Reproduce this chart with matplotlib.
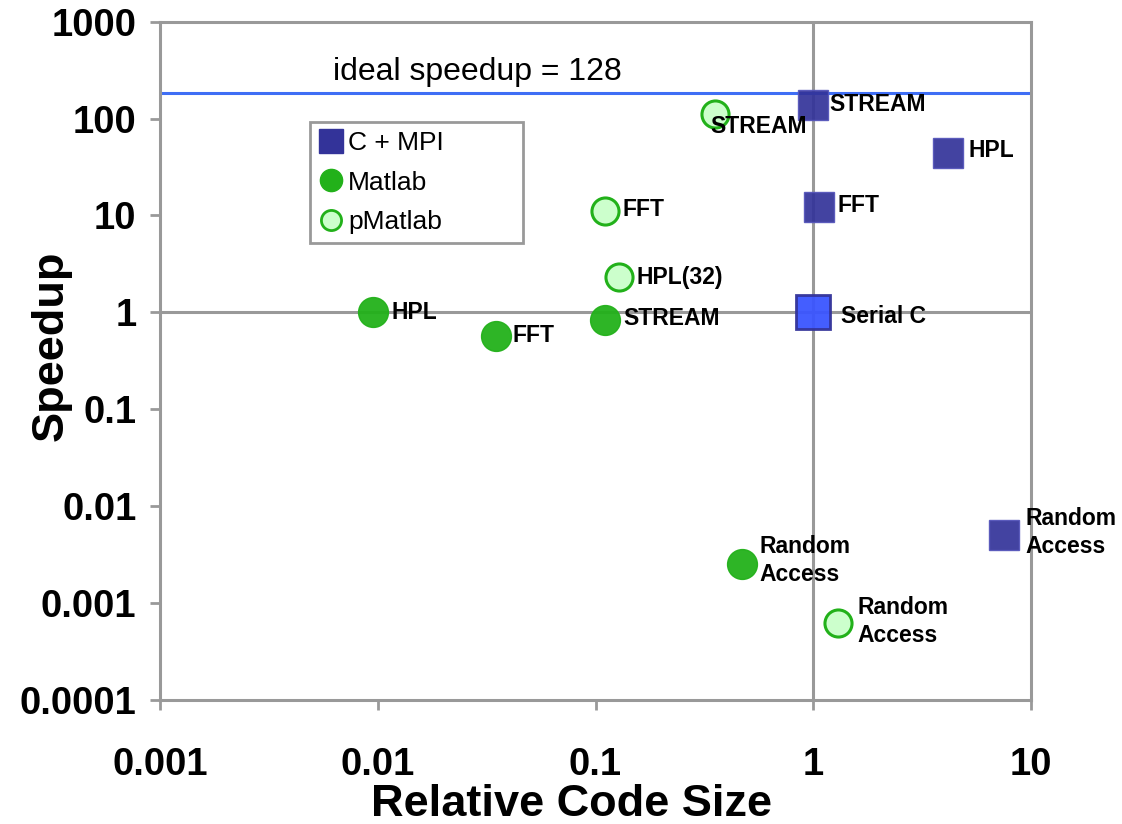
import matplotlib.pyplot as plt
from matplotlib.lines import Line2D

plt.rcParams['font.family'] = ['Liberation Sans', 'DejaVu Sans']

# C + MPI
mpi_names = ["STREAM", "HPL", "FFT", "Random\nAccess"]
mpi_x = [1.0, 4.16, 1.06, 7.5]
mpi_y = [138, 44.2, 12.1, 0.0051]
mpi_off = [(16, 1), (20, 2), (19, 2), (22, 2)]

# Matlab
ml_names = ["HPL", "FFT", "STREAM", "Random\nAccess"]
ml_x = [0.0095, 0.035, 0.110, 0.469]
ml_y = [1.0, 0.573, 0.83, 0.00251]
ml_off = [(19, 0), (16, 0), (19, 2), (18, 4)]

# pMatlab
pm_names = ["STREAM", "FFT", "HPL(32)", "Random\nAccess"]
pm_x = [0.355, 0.1107, 0.128, 1.30]
pm_y = [111.6, 11.2, 2.34, 0.000618]
pm_off = [(-5, -13), (17, 1), (18, -1), (19, 2)]

serial_x = [1.0]
serial_y = [1.0]
ideal = 182

xticks = [0.001, 0.01, 0.1, 1, 10]
xtick_labels = ["0.001", "0.01", "0.1", "1", "10"]
yticks = [0.0001, 0.001, 0.01, 0.1, 1, 10, 100, 1000]
ytick_labels = ["0.0001", "0.001", "0.01", "0.1", "1", "10", "100", "1000"]

navy = "#333399"
green = "#22b11a"
light = "#ccffcc"
grey = "#999999"

fig = plt.figure(figsize=(11.22, 8.24), dpi=100)
ax = fig.add_axes([0.1426, 0.1505, 0.7763, 0.8232])
ax.set_xscale("log")
ax.set_yscale("log")
ax.set_xlim(0.001, 10)
ax.set_ylim(0.0001, 1000)

ax.axvline(1, color=grey, lw=2.2, zorder=1)
ax.axhline(1, color=grey, lw=2.2, zorder=1)
ax.axhline(ideal, color="#3f6ef5", lw=2.2, zorder=1)
ax.text(0.00623, ideal * 1.17, "ideal speedup = 128", fontsize=23, va="bottom")

ax.plot(mpi_x, mpi_y, "s", ms=22, mfc=navy, mec="#5555bb", mew=1, ls="none", alpha=0.92, zorder=3)
ax.plot(ml_x, ml_y, "o", ms=21.5, mfc=green, mec=green, mew=1, ls="none", alpha=0.95, zorder=3)
ax.plot(pm_x, pm_y, "o", ms=19.5, mfc=light, mec=green, mew=2.2, ls="none", zorder=3)
ax.plot(serial_x, serial_y, "s", ms=24.5, mfc="#3a55ff", mec=navy, mew=2, ls="none", alpha=0.95, zorder=3)

for names, xs, ys, offs in [(mpi_names, mpi_x, mpi_y, mpi_off),
                            (ml_names, ml_x, ml_y, ml_off),
                            (pm_names, pm_x, pm_y, pm_off)]:
    for n, x, y, o in zip(names, xs, ys, offs):
        ax.annotate(n, (x, y), xytext=o, textcoords="offset pixels",
                    fontsize=16.5, fontweight="bold", ha="left", va="center",
                    linespacing=1.3, zorder=4)
ax.annotate("Serial C", (serial_x[0], serial_y[0]), xytext=(28, -4), textcoords="offset pixels",
            fontsize=16.5, fontweight="bold", ha="left", va="center", zorder=4)

for s in ax.spines.values():
    s.set_color(grey)
    s.set_linewidth(2.2)

ax.set_xticks(xticks)
ax.set_xticklabels(xtick_labels)
ax.set_yticks(yticks)
ax.set_yticklabels(ytick_labels)
ax.minorticks_off()
ax.tick_params(axis="both", length=7, width=2, color=grey, labelsize=27.5)
ax.tick_params(axis="x", pad=27)
ax.tick_params(axis="y", pad=10)
for lab in ax.get_xticklabels() + ax.get_yticklabels():
    lab.set_fontweight("bold")

ax.set_xlabel("Relative Code Size", fontsize=32.5, fontweight="bold")
ax.set_ylabel("Speedup", fontsize=32.5, fontweight="bold")
ax.xaxis.set_label_coords(0.473, -0.124)
ax.yaxis.set_label_coords(-0.101, 0.522)

handles = [
    Line2D([], [], marker="s", ls="none", ms=17, mfc=navy, mec=navy),
    Line2D([], [], marker="o", ls="none", ms=16, mfc=green, mec=green),
    Line2D([], [], marker="o", ls="none", ms=14.5, mfc=light, mec=green, mew=2),
]
leg = ax.legend(handles, ["C + MPI", "Matlab", "pMatlab"], loc="upper left",
                bbox_to_anchor=(310 / 1122, 1 - 242 / 824, 213 / 1122, 120 / 824),
                bbox_transform=fig.transFigure, mode="expand",
                fontsize=19, fancybox=False, framealpha=1, edgecolor=grey,
                handlelength=0.9, handletextpad=0.2, labelspacing=0.58,
                borderpad=0.35, borderaxespad=0)
leg.get_frame().set_linewidth(2)

fig.savefig("out.png", dpi=100)
